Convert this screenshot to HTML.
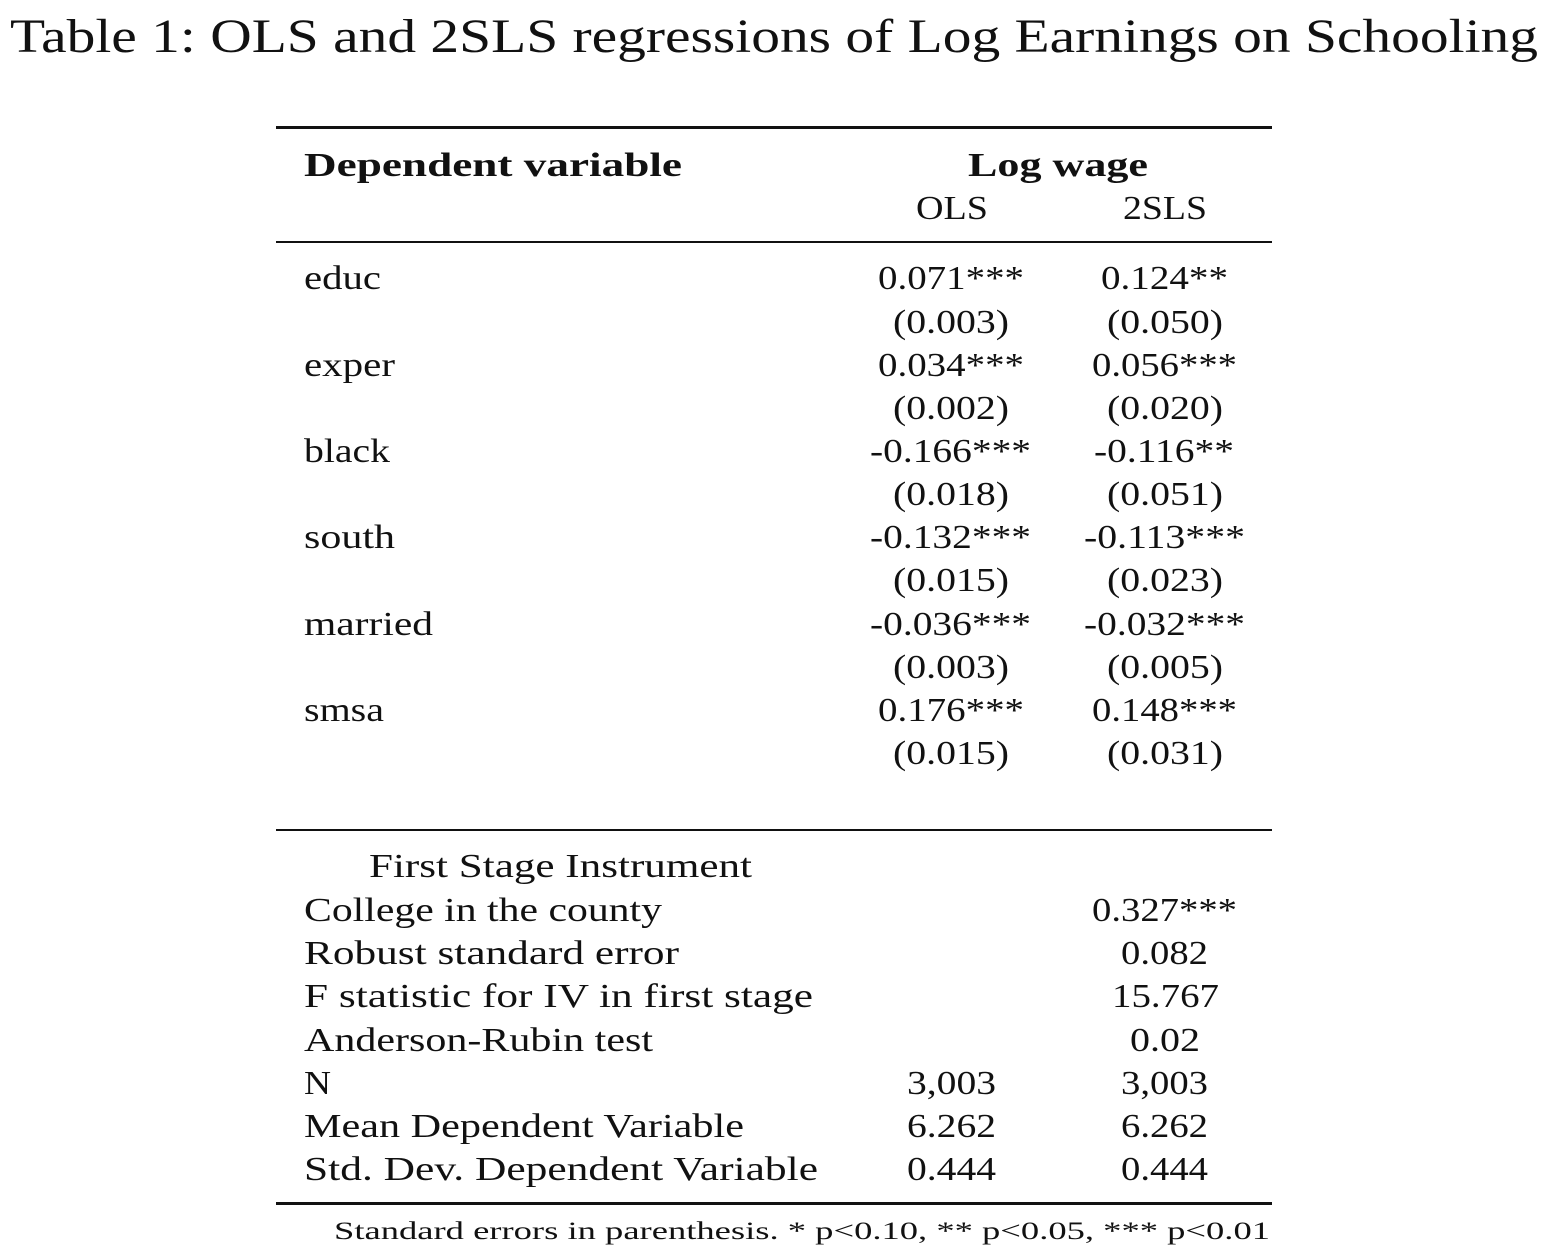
<!DOCTYPE html>
<html><head><meta charset="utf-8"><style>
html,body{margin:0;padding:0;background:#fff;}
svg{display:block;}
text{font-family:"Liberation Serif",serif;fill:#111;}
</style></head><body>
<svg width="1548" height="1258" viewBox="0 0 1548 1258" xmlns="http://www.w3.org/2000/svg">
<text x="10" y="52" font-size="48" textLength="1528" lengthAdjust="spacingAndGlyphs">Table 1: OLS and 2SLS regressions of Log Earnings on Schooling</text>
<rect x="276" y="126" width="996" height="3" fill="#111"/>
<rect x="276" y="241" width="996" height="2" fill="#111"/>
<rect x="276" y="829" width="996" height="2" fill="#111"/>
<rect x="276" y="1202" width="996" height="3" fill="#111"/>
<g font-size="34" lengthAdjust="spacingAndGlyphs">
<text x="304" y="176" font-weight="bold" textLength="378" lengthAdjust="spacingAndGlyphs">Dependent variable</text>
<text x="968" y="176" font-weight="bold" textLength="180" lengthAdjust="spacingAndGlyphs">Log wage</text>
<text x="916" y="219" textLength="72" lengthAdjust="spacingAndGlyphs">OLS</text>
<text x="1123" y="219" textLength="84" lengthAdjust="spacingAndGlyphs">2SLS</text>

<text x="304" y="289" textLength="77" lengthAdjust="spacingAndGlyphs">educ</text>
<text x="304" y="376" textLength="91" lengthAdjust="spacingAndGlyphs">exper</text>
<text x="304" y="462" textLength="86" lengthAdjust="spacingAndGlyphs">black</text>
<text x="304" y="548" textLength="91" lengthAdjust="spacingAndGlyphs">south</text>
<text x="304" y="635" textLength="129" lengthAdjust="spacingAndGlyphs">married</text>
<text x="304" y="721" textLength="80" lengthAdjust="spacingAndGlyphs">smsa</text>

<text x="878" y="289" textLength="146" lengthAdjust="spacingAndGlyphs">0.071***</text>
<text x="893" y="333" textLength="116" lengthAdjust="spacingAndGlyphs">(0.003)</text>
<text x="878" y="376" textLength="146" lengthAdjust="spacingAndGlyphs">0.034***</text>
<text x="893" y="419" textLength="116" lengthAdjust="spacingAndGlyphs">(0.002)</text>
<text x="870" y="462" textLength="161" lengthAdjust="spacingAndGlyphs">-0.166***</text>
<text x="893" y="505" textLength="116" lengthAdjust="spacingAndGlyphs">(0.018)</text>
<text x="870" y="548" textLength="161" lengthAdjust="spacingAndGlyphs">-0.132***</text>
<text x="893" y="591" textLength="116" lengthAdjust="spacingAndGlyphs">(0.015)</text>
<text x="870" y="635" textLength="161" lengthAdjust="spacingAndGlyphs">-0.036***</text>
<text x="893" y="678" textLength="116" lengthAdjust="spacingAndGlyphs">(0.003)</text>
<text x="878" y="721" textLength="146" lengthAdjust="spacingAndGlyphs">0.176***</text>
<text x="893" y="764" textLength="116" lengthAdjust="spacingAndGlyphs">(0.015)</text>

<text x="1101" y="289" textLength="127" lengthAdjust="spacingAndGlyphs">0.124**</text>
<text x="1107" y="333" textLength="116" lengthAdjust="spacingAndGlyphs">(0.050)</text>
<text x="1092" y="376" textLength="145" lengthAdjust="spacingAndGlyphs">0.056***</text>
<text x="1107" y="419" textLength="116" lengthAdjust="spacingAndGlyphs">(0.020)</text>
<text x="1094" y="462" textLength="140" lengthAdjust="spacingAndGlyphs">-0.116**</text>
<text x="1107" y="505" textLength="116" lengthAdjust="spacingAndGlyphs">(0.051)</text>
<text x="1084" y="548" textLength="161" lengthAdjust="spacingAndGlyphs">-0.113***</text>
<text x="1107" y="591" textLength="116" lengthAdjust="spacingAndGlyphs">(0.023)</text>
<text x="1084" y="635" textLength="161" lengthAdjust="spacingAndGlyphs">-0.032***</text>
<text x="1107" y="678" textLength="116" lengthAdjust="spacingAndGlyphs">(0.005)</text>
<text x="1092" y="721" textLength="145" lengthAdjust="spacingAndGlyphs">0.148***</text>
<text x="1107" y="764" textLength="116" lengthAdjust="spacingAndGlyphs">(0.031)</text>

<text x="369" y="877" textLength="383" lengthAdjust="spacingAndGlyphs">First Stage Instrument</text>
<text x="304" y="921" textLength="358" lengthAdjust="spacingAndGlyphs">College in the county</text>
<text x="304" y="964" textLength="375" lengthAdjust="spacingAndGlyphs">Robust standard error</text>
<text x="304" y="1007" textLength="509" lengthAdjust="spacingAndGlyphs">F statistic for IV in first stage</text>
<text x="304" y="1051" textLength="349" lengthAdjust="spacingAndGlyphs">Anderson-Rubin test</text>
<text x="304" y="1094" textLength="27" lengthAdjust="spacingAndGlyphs">N</text>
<text x="304" y="1137" textLength="440" lengthAdjust="spacingAndGlyphs">Mean Dependent Variable</text>
<text x="304" y="1180" textLength="514" lengthAdjust="spacingAndGlyphs">Std. Dev. Dependent Variable</text>

<text x="1092" y="921" textLength="145" lengthAdjust="spacingAndGlyphs">0.327***</text>
<text x="1121" y="964" textLength="87" lengthAdjust="spacingAndGlyphs">0.082</text>
<text x="1112" y="1007" textLength="107" lengthAdjust="spacingAndGlyphs">15.767</text>
<text x="1130" y="1051" textLength="70" lengthAdjust="spacingAndGlyphs">0.02</text>
<text x="907" y="1094" textLength="89" lengthAdjust="spacingAndGlyphs">3,003</text>
<text x="1121" y="1094" textLength="87" lengthAdjust="spacingAndGlyphs">3,003</text>
<text x="907" y="1137" textLength="89" lengthAdjust="spacingAndGlyphs">6.262</text>
<text x="1121" y="1137" textLength="87" lengthAdjust="spacingAndGlyphs">6.262</text>
<text x="907" y="1180" textLength="89" lengthAdjust="spacingAndGlyphs">0.444</text>
<text x="1121" y="1180" textLength="87" lengthAdjust="spacingAndGlyphs">0.444</text>
</g>
<text x="334" y="1239" font-size="25" textLength="936" lengthAdjust="spacingAndGlyphs">Standard errors in parenthesis.  * p&lt;0.10, ** p&lt;0.05, *** p&lt;0.01</text>
</svg>
</body></html>
